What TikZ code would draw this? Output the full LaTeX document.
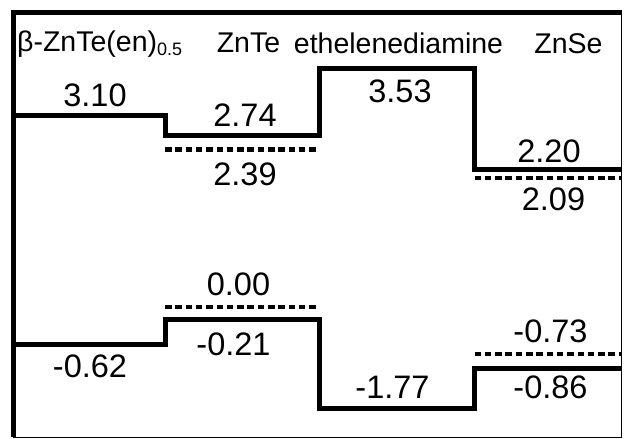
\documentclass[tikz,border=0pt]{standalone}
\usepackage{fontspec}
\setmainfont{Liberation Sans}
\usetikzlibrary{positioning}

\begin{document}
\begin{tikzpicture}[x=1pt,y=-1pt,line join=miter,
  level/.style={line width=5pt},
  calcd/.style={line width=4.5pt,dash pattern=on 6.5pt off 3.8pt},
  val/.style={inner sep=0pt,anchor=base,font=\fontsize{32.5}{33}\selectfont},
  head/.style={inner sep=0pt,anchor=base,font=\fontsize{28.5}{29}\selectfont}]
  \useasboundingbox (0,0) rectangle (625,439);
  % frame
  \draw[line width=1pt] (13.5,12.5) rectangle (621.5,437);
  \draw[line width=4.5pt] (13.5,437) -- (13.5,12.5) -- (622,12.5);
  % band edges
  \coordinate (bC) at (13.5,115);
  \coordinate (bC') at (165,115);
  \coordinate (tC) at (165,135.5);
  \coordinate (tC') at (319,135.5);
  \coordinate (eC) at (319,68.5);
  \coordinate (eC') at (474.5,68.5);
  \coordinate (sC) at (474.5,169.5);
  \coordinate (sC') at (621.5,169.5);
  \coordinate (bV) at (13.5,344.5);
  \coordinate (bV') at (165.5,344.5);
  \coordinate (tV) at (165.5,319.5);
  \coordinate (tV') at (319,319.5);
  \coordinate (eV) at (319,408.5);
  \coordinate (eV') at (474.5,408.5);
  \coordinate (sV) at (474.5,368.5);
  \coordinate (sV') at (621.5,368.5);
  \coordinate (tCd) at (165,149.5);
  \coordinate (tCd') at (319,149.5);
  \coordinate (sCd) at (474.5,178);
  \coordinate (sCd') at (621.5,178);
  \coordinate (tVd) at (165,307);
  \coordinate (tVd') at (319,307);
  \coordinate (sVd) at (474.5,354);
  \coordinate (sVd') at (621.5,354);
  % headings
  \node[head,anchor=base west] (hb) at (17,51.5) {β-ZnTe(en)\raisebox{-3.5pt}{\fontsize{18}{18}\selectfont 0.5}};
  \node[head] (ht) at (248.5,52.5) {ZnTe};
  \node[head] (he) at (398.5,53) {ethelenediamine};
  \node[head] (hs) at (568.5,53) {ZnSe};
  % values
  \node[val] (v310) at (95,106.5) {3.10};
  \node[val] (v274) at (245,126.5) {2.74};
  \node[val] (v239) at (245,185) {2.39};
  \node[val] (v353) at (400,102) {3.53};
  \node[val] (v220) at (549,162) {2.20};
  \node[val] (v209) at (553.5,210) {2.09};
  \node[val] (v000) at (238.5,295) {0.00};
  \node[val] (v021) at (233.5,355) {-0.21};
  \node[val] (v062) at (90,377) {-0.62};
  \node[val] (v177) at (392.5,398) {-1.77};
  \node[val] (v073) at (550.5,342) {-0.73};
  \node[val] (v086) at (550.5,398) {-0.86};
  \draw[level] (bC) -- (bC') -- (tC) -- (tC') -- (eC) -- (eC') -- (sC) -- (sC');
  \draw[level] (bV) -- (bV') -- (tV) -- (tV') -- (eV) -- (eV') -- (sV) -- (sV');
  \path[calcd]
  (tCd) edge (tCd')
  (sCd) edge (sCd')
  (tVd) edge (tVd')
  (sVd) edge (sVd')
  ;
\end{tikzpicture}
\end{document}
